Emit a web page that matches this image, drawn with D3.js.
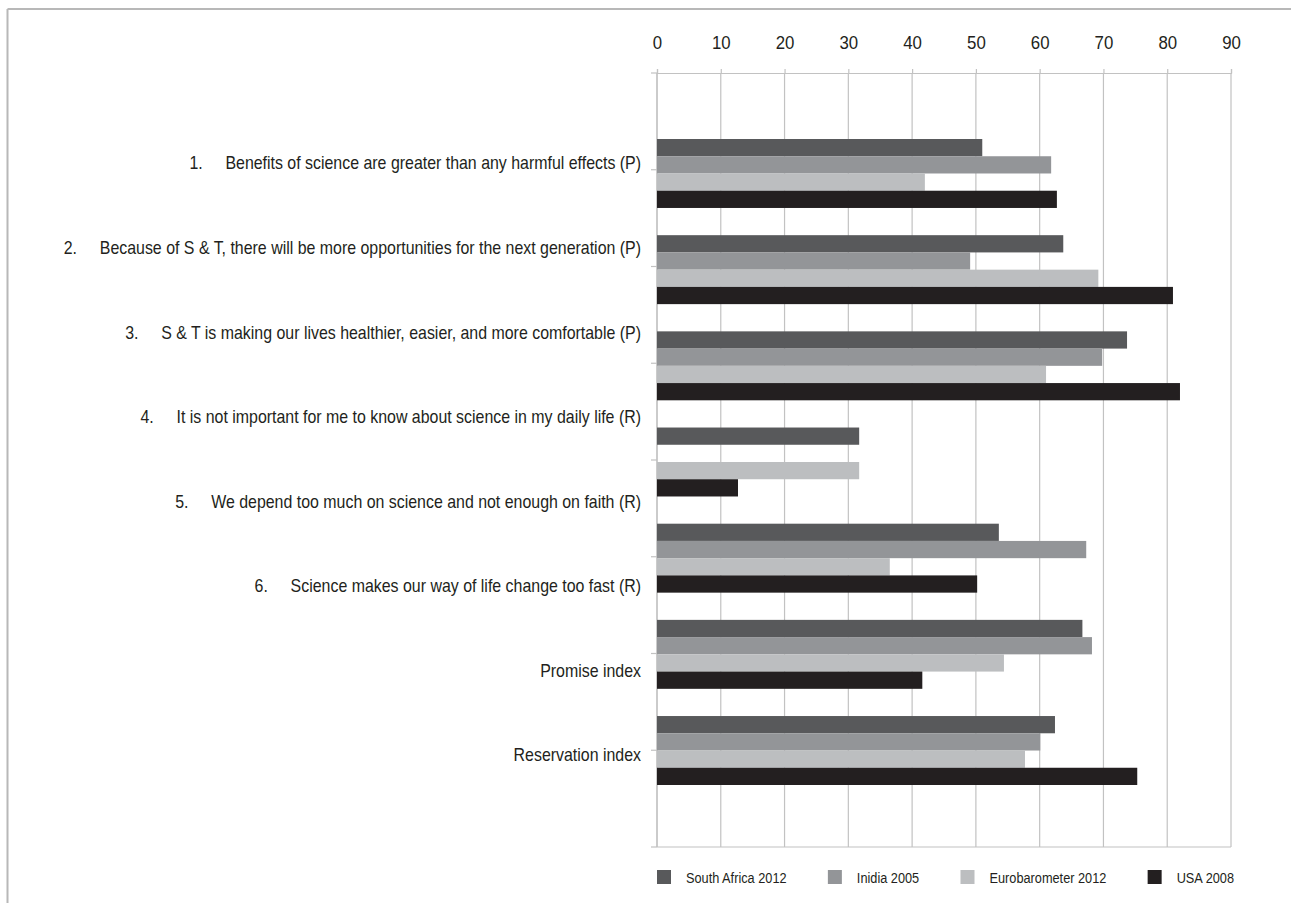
<!DOCTYPE html>
<html>
<head>
<meta charset="utf-8">
<script src="https://cdn.jsdelivr.net/npm/d3@7"></script>
<style>
  html, body { margin: 0; padding: 0; background: #fff; }
  svg { display: block; }
  text { font-family: "Liberation Sans", Arial, sans-serif; fill: #231f20; }
</style>
</head>
<body>
<svg id="chart" width="1291" height="903"></svg>
<script>
// Survey statements (numbered items plus the two summary indices)
const itemNumbers = ["1.", "2.", "3.", "4.", "5.", "6.", "", ""];
const categories = [
  "Benefits of science are greater than any harmful effects (P)",
  "Because of S & T, there will be more opportunities for the next generation (P)",
  "S & T is making our lives healthier, easier, and more comfortable (P)",
  "It is not important for me to know about science in my daily life (R)",
  "We depend too much on science and not enough on faith (R)",
  "Science makes our way of life change too fast (R)",
  "Promise index",
  "Reservation index"
];
// Bar row each statement is drawn in (items 4 and 5 share one row)
const barRow = [0, 1, 2, 3, 3, 4, 5, 6];

const seriesNames = ["South Africa 2012", "Inidia 2005", "Eurobarometer 2012", "USA 2008"];
const southAfrica2012 = [51.0, 63.7, 73.7, 31.7, null, 53.6, 66.7, 62.4];
const india2005       = [61.8, 49.1, 69.8, null, null, 67.3, 68.2, 60.1];
const euro2012        = [42.0, 69.2, 61.0, null, 31.7, 36.5, 54.4, 57.7];
const usa2008         = [62.7, 80.9, 82.0, null, 12.7, 50.2, 41.6, 75.3];
const seriesValues = [southAfrica2012, india2005, euro2012, usa2008];
const seriesColors = ["#58595b", "#939598", "#bcbec0", "#231f20"];

const xTicks = [0, 10, 20, 30, 40, 50, 60, 70, 80, 90];

// Condensed type: regular sans squeezed horizontally
const squeeze = 0.885, legendSqueeze = 0.85;

const svg = d3.select("#chart");

// Page frame
svg.append("line").attr("x1", 7.5).attr("x2", 1291).attr("y1", 9).attr("y2", 9)
  .attr("stroke", "#b8b8b8").attr("stroke-width", 2);
svg.append("line").attr("x1", 7.5).attr("x2", 7.5).attr("y1", 9).attr("y2", 903)
  .attr("stroke", "#b8b8b8").attr("stroke-width", 2);

const plotTop = 73, plotBottom = 847;
const x = d3.scaleLinear().domain([0, 90]).range([657, 1231]);

// Category axis: one band per statement, ticks between bands
const yCat = d3.scaleBand().domain(d3.range(categories.length)).range([plotTop, plotBottom]);
// Label positions
const yLabel = d3.scalePoint().domain(d3.range(categories.length)).range([163, 755]);
// Bar rows
const rowCount = d3.max(barRow) + 1;
const yRow = d3.scaleBand().domain(d3.range(rowCount)).range([125.4, 798.6])
  .paddingInner(0.283).paddingOuter(0.1415);
const ySeries = d3.scaleBand().domain(d3.range(seriesNames.length)).range([0, yRow.bandwidth()]);

const gridColor = "#c2c2c2";

// Vertical gridlines
svg.append("g").selectAll("line").data(xTicks).join("line")
  .attr("x1", d => x(d)).attr("x2", d => x(d))
  .attr("y1", plotTop).attr("y2", plotBottom)
  .attr("stroke", gridColor).attr("stroke-width", 1.2);

// Top value axis
const xAxis = svg.append("g").attr("transform", `translate(0,${plotTop})`)
  .call(d3.axisTop(x).tickValues(xTicks).tickSize(4).tickSizeOuter(4).tickPadding(20).tickFormat(d3.format("d")));
xAxis.selectAll("path, line").attr("stroke", gridColor).attr("stroke-width", 1.2);
xAxis.selectAll("text").attr("font-size", 19)
  .style("font-family", "\"Liberation Sans\", Arial, sans-serif").attr("fill", "#231f20")
  .attr("transform", `scale(${squeeze},1)`);

// Category axis line with ticks at band edges
const edges = d3.range(categories.length + 1).map(i => i < categories.length ? yCat(i) : yCat.range()[1]);
svg.append("line").attr("x1", x(0)).attr("x2", x(0)).attr("y1", plotTop).attr("y2", plotBottom)
  .attr("stroke", gridColor).attr("stroke-width", 1.2);
svg.append("g").selectAll("line").data(edges).join("line")
  .attr("x1", x(0) - 6).attr("x2", x(0)).attr("y1", d => d).attr("y2", d => d)
  .attr("stroke", gridColor).attr("stroke-width", 1.2);
svg.append("line").attr("x1", x(0)).attr("x2", x(90)).attr("y1", plotBottom).attr("y2", plotBottom)
  .attr("stroke", gridColor).attr("stroke-width", 1.2);

// Bars
const bars = [];
categories.forEach((c, ci) => {
  seriesValues.forEach((vals, si) => {
    if (vals[ci] != null) bars.push({ ci, si, v: vals[ci] });
  });
});
svg.append("g").selectAll("rect").data(bars).join("rect")
  .attr("x", x(0))
  .attr("y", d => yRow(barRow[d.ci]) + ySeries(d.si))
  .attr("width", d => x(d.v) - x(0))
  .attr("height", ySeries.bandwidth())
  .attr("fill", d => seriesColors[d.si]);

// Category labels, right-aligned, with item number in front
const labelRight = 641, numberGap = 36, labelSize = 18;
const labels = svg.append("g");
categories.forEach((c, i) => {
  const t = labels.append("text")
    .attr("transform", `translate(${labelRight},${yLabel(i)}) scale(${squeeze},1)`)
    .attr("dy", "0.36em").attr("text-anchor", "end").attr("font-size", labelSize).text(c);
  if (itemNumbers[i]) {
    const w = t.node().getComputedTextLength() * squeeze;
    labels.append("text")
      .attr("transform", `translate(${labelRight - w - numberGap},${yLabel(i)}) scale(${squeeze},1)`)
      .attr("dy", "0.36em").attr("font-size", labelSize).text(itemNumbers[i]);
  }
});

// Legend spread across the plot width
const legendY = 870, sw = 14, textGap = 15;
const legend = svg.append("g");
const items = seriesNames.map((n, i) => {
  const g = legend.append("g");
  g.append("rect").attr("width", sw).attr("height", sw).attr("y", legendY).attr("fill", seriesColors[i]);
  const t = g.append("text")
    .attr("transform", `translate(${sw + textGap},${legendY + sw - 1}) scale(${legendSqueeze},1)`)
    .attr("font-size", 15).text(n);
  return { g, w: sw + textGap + t.node().getComputedTextLength() * legendSqueeze };
});
const totalW = d3.sum(items, d => d.w);
const gap = (x(90) + 3 - x(0) - totalW) / (items.length - 1);
let cx = x(0);
items.forEach(it => { it.g.attr("transform", `translate(${cx},0)`); cx += it.w + gap; });
</script>
</body>
</html>
